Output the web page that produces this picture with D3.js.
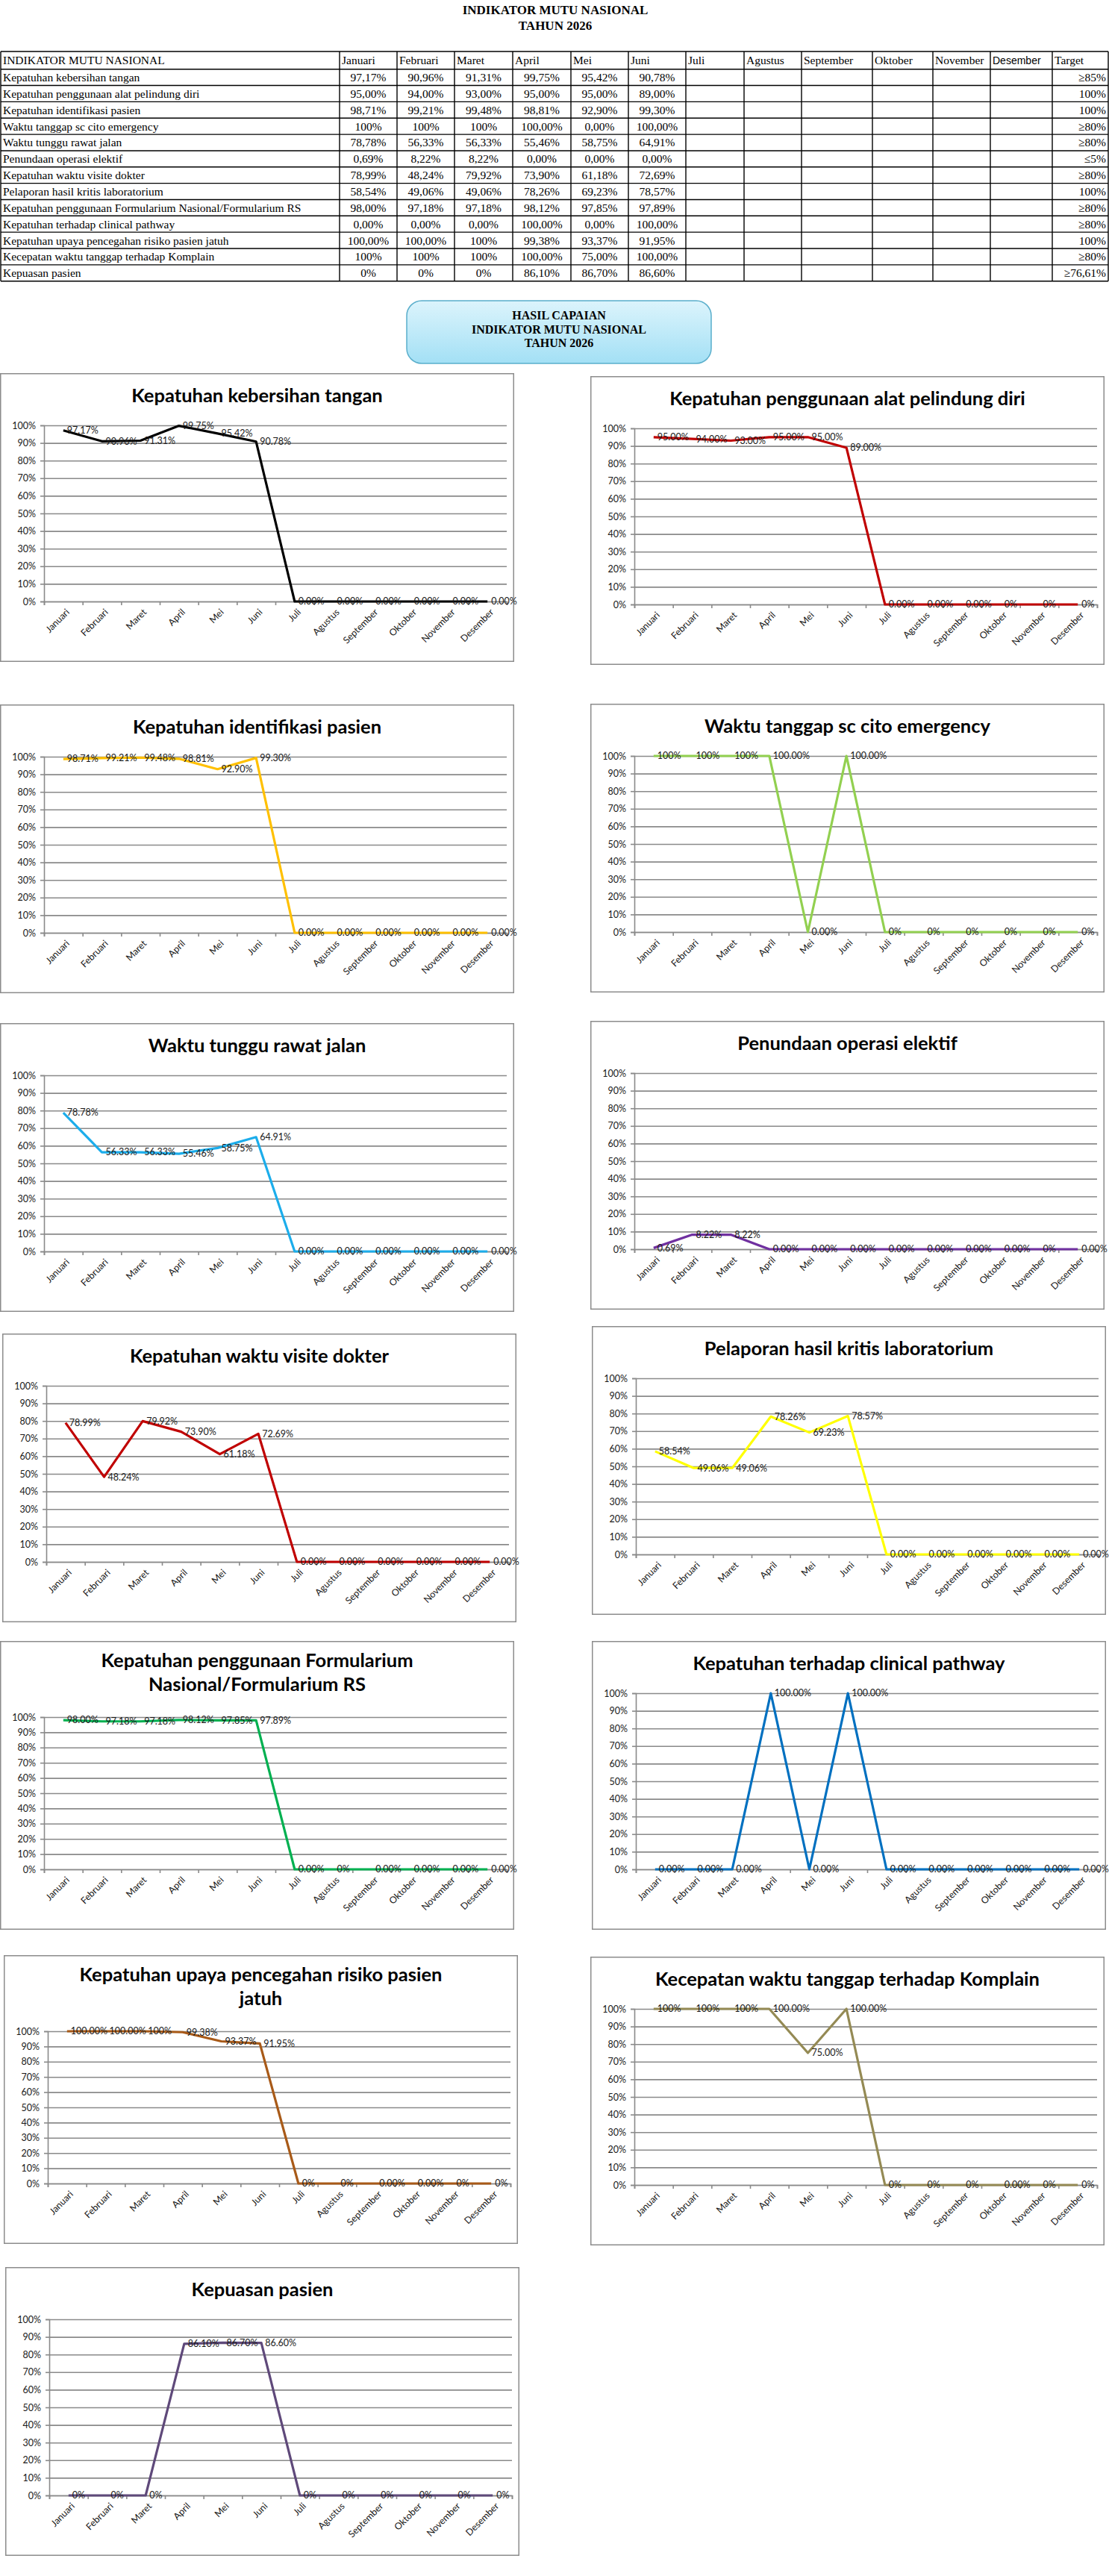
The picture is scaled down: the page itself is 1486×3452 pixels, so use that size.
<!DOCTYPE html>
<html><head><meta charset="utf-8">
<script src="https://cdn.jsdelivr.net/npm/d3@7"></script>
<style>
body{margin:0;background:#fff}
svg{display:block}
</style></head>
<body><svg id="c" width="1486" height="3452"></svg>
<script>
// ---------- DATA ----------
const months = ["Januari","Februari","Maret","April","Mei","Juni","Juli","Agustus","September","Oktober","November","Desember"];
const indicators = [
  "Kepatuhan kebersihan tangan",
  "Kepatuhan penggunaan alat pelindung diri",
  "Kepatuhan identifikasi pasien",
  "Waktu tanggap sc cito emergency",
  "Waktu tunggu rawat jalan",
  "Penundaan operasi elektif",
  "Kepatuhan waktu visite dokter",
  "Pelaporan hasil kritis laboratorium",
  "Kepatuhan penggunaan Formularium Nasional/Formularium RS",
  "Kepatuhan terhadap clinical pathway",
  "Kepatuhan upaya pencegahan risiko pasien jatuh",
  "Kecepatan waktu tanggap terhadap Komplain",
  "Kepuasan pasien"
];
const targets = ["≥85%","100%","100%","≥80%","≥80%","≤5%","≥80%","100%","≥80%","≥80%","100%","≥80%","≥76,61%"];

// table cell texts (Januari..Juni)
const tblKebersihan   = ["97,17%","90,96%","91,31%","99,75%","95,42%","90,78%"];
const tblAPD          = ["95,00%","94,00%","93,00%","95,00%","95,00%","89,00%"];
const tblIdentifikasi = ["98,71%","99,21%","99,48%","98,81%","92,90%","99,30%"];
const tblScCito       = ["100%","100%","100%","100,00%","0,00%","100,00%"];
const tblRawatJalan   = ["78,78%","56,33%","56,33%","55,46%","58,75%","64,91%"];
const tblOperasi      = ["0,69%","8,22%","8,22%","0,00%","0,00%","0,00%"];
const tblVisite       = ["78,99%","48,24%","79,92%","73,90%","61,18%","72,69%"];
const tblLab          = ["58,54%","49,06%","49,06%","78,26%","69,23%","78,57%"];
const tblFormularium  = ["98,00%","97,18%","97,18%","98,12%","97,85%","97,89%"];
const tblClinical     = ["0,00%","0,00%","0,00%","100,00%","0,00%","100,00%"];
const tblJatuh        = ["100,00%","100,00%","100%","99,38%","93,37%","91,95%"];
const tblKomplain     = ["100%","100%","100%","100,00%","75,00%","100,00%"];
const tblKepuasan     = ["0%","0%","0%","86,10%","86,70%","86,60%"];

// chart series values (percent)
const valKebersihan   = [97.17,90.96,91.31,99.75,95.42,90.78,0,0,0,0,0,0];
const valAPD          = [95,94,93,95,95,89,0,0,0,0,0,0];
const valIdentifikasi = [98.71,99.21,99.48,98.81,92.90,99.30,0,0,0,0,0,0];
const valScCito       = [100,100,100,100,0,100,0,0,0,0,0,0];
const valRawatJalan   = [78.78,56.33,56.33,55.46,58.75,64.91,0,0,0,0,0,0];
const valOperasi      = [0.69,8.22,8.22,0,0,0,0,0,0,0,0,0];
const valVisite       = [78.99,48.24,79.92,73.90,61.18,72.69,0,0,0,0,0,0];
const valLab          = [58.54,49.06,49.06,78.26,69.23,78.57,0,0,0,0,0,0];
const valFormularium  = [98.00,97.18,97.18,98.12,97.85,97.89,0,0,0,0,0,0];
const valClinical     = [0,0,0,100,0,100,0,0,0,0,0,0];
const valJatuh        = [100,100,100,99.38,93.37,91.95,0,0,0,0,0,0];
const valKomplain     = [100,100,100,100,75,100,0,0,0,0,0,0];
const valKepuasan     = [0,0,0,86.10,86.70,86.60,0,0,0,0,0,0];

// chart data label texts
const lblKebersihan   = ["97.17%","90.96%","91.31%","99.75%","95.42%","90.78%","0.00%","0.00%","0.00%","0.00%","0.00%","0.00%"];
const lblAPD          = ["95.00%","94.00%","93.00%","95.00%","95.00%","89.00%","0.00%","0.00%","0.00%","0%","0%","0%"];
const lblIdentifikasi = ["98.71%","99.21%","99.48%","98.81%","92.90%","99.30%","0.00%","0.00%","0.00%","0.00%","0.00%","0.00%"];
const lblScCito       = ["100%","100%","100%","100.00%","0.00%","100.00%","0%","0%","0%","0%","0%","0%"];
const lblRawatJalan   = ["78.78%","56.33%","56.33%","55.46%","58.75%","64.91%","0.00%","0.00%","0.00%","0.00%","0.00%","0.00%"];
const lblOperasi      = ["0.69%","8.22%","8.22%","0.00%","0.00%","0.00%","0.00%","0.00%","0.00%","0.00%","0%","0.00%"];
const lblVisite       = ["78.99%","48.24%","79.92%","73.90%","61.18%","72.69%","0.00%","0.00%","0.00%","0.00%","0.00%","0.00%"];
const lblLab          = ["58.54%","49.06%","49.06%","78.26%","69.23%","78.57%","0.00%","0.00%","0.00%","0.00%","0.00%","0.00%"];
const lblFormularium  = ["98.00%","97.18%","97.18%","98.12%","97.85%","97.89%","0.00%","0%","0.00%","0.00%","0.00%","0.00%"];
const lblClinical     = ["0.00%","0.00%","0.00%","100.00%","0.00%","100.00%","0.00%","0.00%","0.00%","0.00%","0.00%","0.00%"];
const lblJatuh        = ["100.00%","100.00%","100%","99.38%","93.37%","91.95%","0%","0%","0.00%","0.00%","0%","0%"];
const lblKomplain     = ["100%","100%","100%","100.00%","75.00%","100.00%","0%","0%","0%","0.00%","0%","0%"];
const lblKepuasan     = ["0%","0%","0%","86.10%","86.70%","86.60%","0%","0%","0%","0%","0%","0%"];

const yTicks = [0,10,20,30,40,50,60,70,80,90,100];

// ---------- BUILD ----------
const tableRows = [tblKebersihan,tblAPD,tblIdentifikasi,tblScCito,tblRawatJalan,tblOperasi,tblVisite,tblLab,tblFormularium,tblClinical,tblJatuh,tblKomplain,tblKepuasan];
const seriesVals = [valKebersihan,valAPD,valIdentifikasi,valScCito,valRawatJalan,valOperasi,valVisite,valLab,valFormularium,valClinical,valJatuh,valKomplain,valKepuasan];
const seriesLbls = [lblKebersihan,lblAPD,lblIdentifikasi,lblScCito,lblRawatJalan,lblOperasi,lblVisite,lblLab,lblFormularium,lblClinical,lblJatuh,lblKomplain,lblKepuasan];
const chartTitles = [
  ["Kepatuhan kebersihan tangan"],
  ["Kepatuhan penggunaan alat pelindung diri"],
  ["Kepatuhan identifikasi pasien"],
  ["Waktu tanggap sc cito emergency"],
  ["Waktu tunggu rawat jalan"],
  ["Penundaan operasi elektif"],
  ["Kepatuhan waktu visite dokter"],
  ["Pelaporan hasil kritis laboratorium"],
  ["Kepatuhan penggunaan Formularium","Nasional/Formularium RS"],
  ["Kepatuhan terhadap clinical pathway"],
  ["Kepatuhan upaya pencegahan risiko pasien","jatuh"],
  ["Kecepatan waktu tanggap terhadap Komplain"],
  ["Kepuasan pasien"]
];
const colors = ["#000000","#C00000","#FFC000","#92D050","#1CADEB","#7030A0","#C00000","#FFFF00","#00B050","#0070C0","#A85A18","#948A54","#5F497A"];

const svg = d3.select("#c");
const serif = "'Liberation Serif','Times New Roman',serif";
const sans = "Lato, 'Open Sans', sans-serif";

// Title
svg.append("text").attr("x",744).attr("y",19).attr("text-anchor","middle")
  .attr("font-family",serif).attr("font-weight","bold").attr("font-size",17).text("INDIKATOR MUTU NASIONAL");
svg.append("text").attr("x",744).attr("y",40).attr("text-anchor","middle")
  .attr("font-family",serif).attr("font-weight","bold").attr("font-size",17).text("TAHUN 2026");

// Table
const colX = [1,455,532,609,687,765,842,919,997,1074,1169,1250,1327,1410,1485];
const rowY = [69,92.7];
for(let i=0;i<13;i++) rowY.push(92.7 + (i+1)*((376.7-92.7)/13));
const tbl = svg.append("g");
const header = ["INDIKATOR MUTU NASIONAL"].concat(months).concat(["Target"]);
colX.forEach(x=>tbl.append("line").attr("x1",x).attr("x2",x).attr("y1",rowY[0]).attr("y2",rowY[rowY.length-1]).attr("stroke","#000").attr("stroke-width",1.4));
rowY.forEach(y=>tbl.append("line").attr("x1",colX[0]).attr("x2",colX[colX.length-1]).attr("y1",y).attr("y2",y).attr("stroke","#000").attr("stroke-width",1.4));
header.forEach((h,i)=>{
  const isDes = h==="Desember";
  tbl.append("text").attr("x",colX[i]+3).attr("y",(rowY[0]+rowY[1])/2).attr("dy","0.35em")
    .attr("font-family", isDes ? "'Liberation Sans',Arial,sans-serif" : serif)
    .attr("font-size", isDes ? 14 : 15.5).text(h);
});
indicators.forEach((name,r)=>{
  const cy = (rowY[r+1]+rowY[r+2])/2;
  tbl.append("text").attr("x",colX[0]+3).attr("y",cy).attr("dy","0.35em")
    .attr("font-family",serif).attr("font-size",15.5).text(name);
  tableRows[r].forEach((t,c)=>{
    tbl.append("text").attr("x",(colX[c+1]+colX[c+2])/2).attr("y",cy).attr("dy","0.35em")
      .attr("text-anchor","middle").attr("font-family",serif).attr("font-size",15.5).text(t);
  });
  tbl.append("text").attr("x",colX[14]-3).attr("y",cy).attr("dy","0.35em")
    .attr("text-anchor","end").attr("font-family",serif).attr("font-size",15.5).text(targets[r]);
});

// Box
const defs = svg.append("defs");
const grad = defs.append("linearGradient").attr("id","boxg").attr("x1",0).attr("x2",0).attr("y1",0).attr("y2",1);
grad.append("stop").attr("offset","0%").attr("stop-color","#dcf4fc");
grad.append("stop").attr("offset","100%").attr("stop-color","#a3e0f5");
svg.append("rect").attr("x",545).attr("y",403).attr("width",408).attr("height",84).attr("rx",20).attr("ry",20)
  .attr("fill","url(#boxg)").attr("stroke","#5aaecb").attr("stroke-width",1.5);
[["HASIL CAPAIAN",428],["INDIKATOR MUTU NASIONAL",447],["TAHUN 2026",465]].forEach(([t,y])=>{
  svg.append("text").attr("x",749).attr("y",y).attr("text-anchor","middle").attr("font-family",serif)
    .attr("font-weight","bold").attr("font-size",16).text(t);
});

// Charts
const frames = [
  [0,500],[791,504],
  [0,944],[791,943],
  [0,1371],[791,1368],
  [3,1787],[793,1777],
  [0,2199],[793,2199],
  [5,2620],[791,2622],
  [7,3038]
];
const FW = 689, FH = 387;
const grid = "#8a8a8a";

frames.forEach(([fx,fy],k)=>{
  const g = svg.append("g");
  g.append("rect").attr("x",fx+0.75).attr("y",fy+0.75).attr("width",FW-1.5).attr("height",FH-1.5)
    .attr("fill","#fff").attr("stroke","#8c8c8c").attr("stroke-width",1.5);
  const t = chartTitles[k];
  const two = t.length>1;
  t.forEach((line,i)=>{
    g.append("text").attr("x",fx+FW/2).attr("y",fy+(two?35+i*32:39)).attr("text-anchor","middle")
      .attr("font-family",sans).attr("font-weight","bold").attr("font-size",25.5).attr("fill","#000").text(line);
  });
  const left = fx+59, right = fx+679, top = fy+(two?102:70), bottom = fy+306;
  const x = d3.scaleBand().domain(months).range([left,right]);
  const xi = d3.scaleLinear().domain([0,12]).range([left,right]);
  const y = d3.scaleLinear().domain([0,100]).range([bottom,top]);

  // gridlines
  const gg = g.append("g").attr("transform",`translate(${left},0)`)
    .call(d3.axisLeft(y).tickValues(yTicks).tickSize(-(right-left)).tickFormat(""));
  gg.select(".domain").remove();
  gg.selectAll("line").attr("stroke",grid).attr("stroke-width",1.6);

  // y axis
  const ya = g.append("g").attr("transform",`translate(${left},0)`)
    .call(d3.axisLeft(y).tickValues(yTicks).tickSize(5).tickPadding(6).tickFormat(d=>d+"%"));
  ya.select(".domain").attr("stroke",grid).attr("stroke-width",1.6);
  ya.selectAll("line").attr("stroke",grid).attr("stroke-width",1.6);
  ya.selectAll("text").attr("font-family",sans).attr("font-size",12.5).attr("fill","#1a1a1a");

  // x axis boundary ticks
  const xa = g.append("g").attr("transform",`translate(0,${bottom})`)
    .call(d3.axisBottom(xi).tickValues(d3.range(0,13)).tickSize(5).tickFormat(""));
  xa.select(".domain").attr("stroke",grid).attr("stroke-width",1.6);
  xa.selectAll("line").attr("stroke",grid).attr("stroke-width",1.6);

  // x labels
  const xl = g.append("g").attr("transform",`translate(0,${bottom})`)
    .call(d3.axisBottom(x).tickSize(0).tickPadding(0));
  xl.select(".domain").remove();
  xl.selectAll("text")
    .attr("font-family",sans).attr("font-size",12.5).attr("fill","#1a1a1a")
    .attr("text-anchor","end")
    .attr("transform","translate(6,12) rotate(-45)")
    .attr("dy","0.35em").attr("y",0).attr("x",0);

  // line
  const vals = seriesVals[k];
  const line = d3.line().x((d,i)=>x(months[i])+x.bandwidth()/2).y(d=>y(d));
  g.append("path").datum(vals).attr("d",line).attr("fill","none")
    .attr("stroke",colors[k]).attr("stroke-width",3.2).attr("stroke-linejoin","round");

  // data labels
  g.append("g").selectAll("text").data(seriesLbls[k]).join("text")
    .attr("x",(d,i)=>x(months[i])+x.bandwidth()/2+5)
    .attr("y",(d,i)=>y(vals[i]))
    .attr("dy","0.35em")
    .attr("font-family",sans).attr("font-size",12.5).attr("fill","#1a1a1a")
    .text(d=>d);
});
</script>
</body></html>
